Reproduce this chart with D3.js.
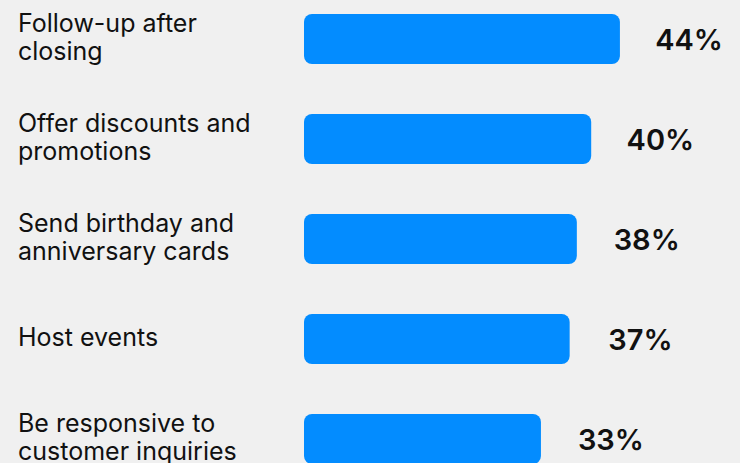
<!DOCTYPE html>
<html>
<head>
<meta charset="utf-8">
<script src="https://cdn.jsdelivr.net/npm/d3@7"></script>
<style>
  html, body { margin: 0; padding: 0; background: #f0f0f0; }
  svg { display: block; }
  text { font-family: Inter, "Noto Sans", sans-serif; fill: #111; }
</style>
</head>
<body>
<svg id="chart"></svg>
<script>
// data
var categories = [
  ['Follow-up after', 'closing'],
  ['Offer discounts and', 'promotions'],
  ['Send birthday and', 'anniversary cards'],
  ['Host events'],
  ['Be responsive to', 'customer inquiries']
];
var values = [44, 40, 38, 37, 33];

var width = 740;
var height = 463;

var svg = d3.select('#chart')
  .attr('width', width)
  .attr('height', height);

var rows = d3.range(values.length);

var x = d3.scaleLinear().domain([0, 50]).range([304, 663]);
var y = d3.scaleBand().domain(rows).range([-11, 489]).paddingInner(0.5).paddingOuter(0.25);

// bars
svg.selectAll('rect.bar')
  .data(rows)
  .enter()
    .append('rect')
    .attr('class', 'bar')
    .attr('x', x(0))
    .attr('y', function (i) { return y(i); })
    .attr('width', function (i) { return x(values[i]) - x(0); })
    .attr('height', y.bandwidth())
    .attr('rx', 8)
    .attr('fill', '#038cff');

// category labels, centred on each bar
var labels = svg.selectAll('text.cat')
  .data(rows)
  .enter()
    .append('text')
    .attr('class', 'cat')
    .attr('font-size', 25)
    .attr('x', 18);

labels.each(function (i) {
  var lines = categories[i];
  var mid = y(i) + y.bandwidth() / 2;
  var first = mid + 7 - (lines.length - 1) * 14;
  d3.select(this).selectAll('tspan')
    .data(lines)
    .enter()
      .append('tspan')
      .attr('x', 18)
      .attr('y', function (d, k) { return first + k * 28; })
      .text(function (d) { return d; });
});

// value labels
svg.selectAll('text.val')
  .data(rows)
  .enter()
    .append('text')
    .attr('class', 'val')
    .attr('font-size', 29)
    .attr('font-weight', 600)
    .attr('text-anchor', 'end')
    .attr('x', function (i) { return x(values[i]) + 103; })
    .attr('y', function (i) { return y(i) + y.bandwidth() / 2 + 11; })
    .text(function (i) { return values[i] + '%'; });
</script>
</body>
</html>
